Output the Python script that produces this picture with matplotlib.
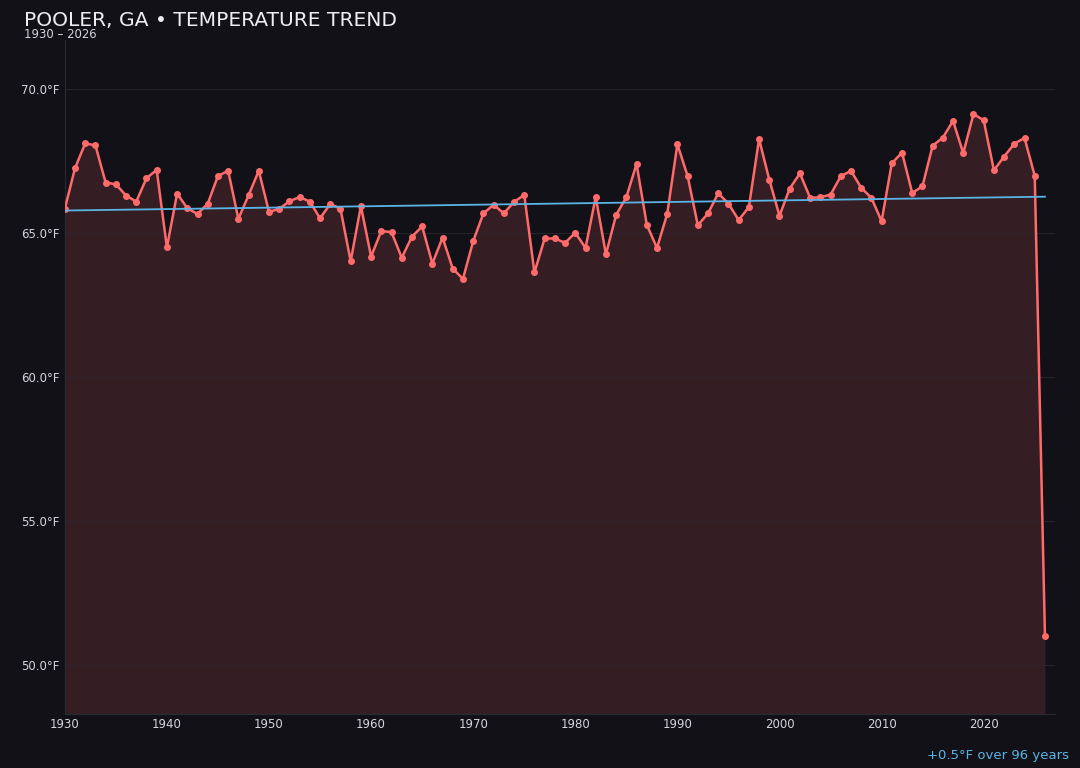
import numpy as np
import matplotlib as mpl
mpl.use('Agg')
import matplotlib.pyplot as plt

# annual mean temperature
years = list(range(1930, 2027))
temps = [65.84, 67.25, 68.11, 68.04, 66.75, 66.69, 66.30, 66.09, 66.90, 67.19,
         64.50, 66.37, 65.86, 65.66, 66.02, 66.98, 67.16, 65.49, 66.31, 67.16,
         65.73, 65.84, 66.10, 66.25, 66.09, 65.51, 66.01, 65.84, 64.02, 65.94,
         64.18, 65.07, 65.03, 64.14, 64.87, 65.23, 63.94, 64.84, 63.76, 63.41,
         64.72, 65.68, 65.98, 65.68, 66.08, 66.32, 63.63, 64.81, 64.81, 64.66,
         65.01, 64.48, 66.25, 64.26, 65.63, 66.24, 67.40, 65.29, 64.48, 65.66,
         68.08, 66.98, 65.27, 65.68, 66.38, 66.02, 65.45, 65.90, 68.26, 66.85,
         65.60, 66.54, 67.07, 66.22, 66.24, 66.33, 66.97, 67.16, 66.57, 66.22,
         65.41, 67.42, 67.79, 66.39, 66.62, 68.03, 68.31, 68.89, 67.77, 69.13,
         68.91, 67.18, 67.65, 68.10, 68.30, 66.98, 51.03]

trend_years = [1930, 2026]
trend_vals = [65.78, 66.26]

yticks = [50, 55, 60, 65, 70]
xticks = [1930, 1940, 1950, 1960, 1970, 1980, 1990, 2000, 2010, 2020]

bg = '#121117'
red = '#ff6b6b'
blue = '#5ab4e6'

plt.close('all')
fig = plt.figure(figsize=(10.8, 7.68), dpi=100, facecolor=bg)
ax = fig.add_axes([0.060, 0.070, 0.917, 0.878])
ax.set_facecolor(bg)

ylo, yhi = 48.3, 71.7
ax.fill_between(years, temps, ylo, color=red, alpha=0.15, linewidth=0, zorder=1)
ax.plot(years, temps, color=red, lw=1.8, marker='o', ms=4, zorder=3)
ax.plot(trend_years, trend_vals, color=blue, lw=1.3, zorder=4)

ax.set_xlim(1930, 2027)
ax.set_ylim(ylo, yhi)
ax.set_yticks(yticks)
ax.set_yticklabels([f'{v:.1f}°F' for v in yticks])
ax.set_xticks(xticks)
ax.tick_params(colors='#d4d4dc', labelsize=8.5, length=0, pad=4)
ax.tick_params(axis='x', pad=3)
ax.grid(axis='y', color='#2a2830', lw=0.6, zorder=0)
for s in ['top', 'right']:
    ax.spines[s].set_visible(False)
for s in ['left', 'bottom']:
    ax.spines[s].set_color('#2a2a32')
    ax.spines[s].set_linewidth(0.8)

fig.text(0.022, 0.973, 'POOLER, GA • TEMPERATURE TREND', color='#ececf2',
         fontsize=14.6, va='center', ha='left')
fig.text(0.022, 0.955, '1930 – 2026', color='#d4d4dc', fontsize=8.4,
         va='center', ha='left')
fig.text(0.990, 0.016, '+0.5°F over 96 years', color=blue, fontsize=9.5,
         va='center', ha='right')

plt.savefig('out.png', facecolor=bg, dpi=100)
